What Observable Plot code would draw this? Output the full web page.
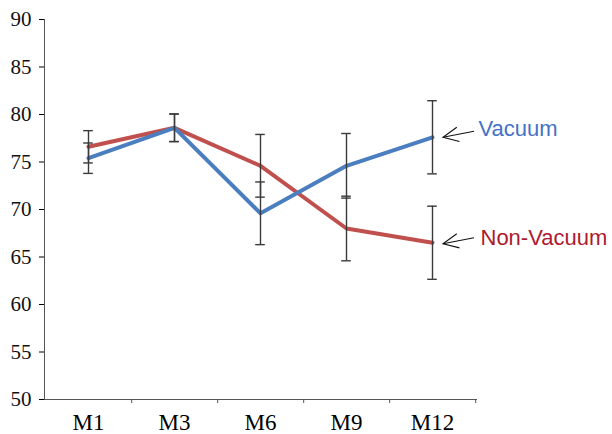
<!DOCTYPE html>
<html>
<head>
<meta charset="utf-8">
<script src="https://cdn.jsdelivr.net/npm/d3@7"></script>
<script src="https://cdn.jsdelivr.net/npm/@observablehq/plot@0.6"></script>
<style>
  html, body { margin: 0; padding: 0; background: #fff; }
  #chart svg { display: block; }
</style>
</head>
<body>
<div id="chart"></div>
<script>
// ---- data ----
const months = ["M1", "M3", "M6", "M9", "M12"];
const vacuumMean = [75.4, 78.6, 69.6, 74.6, 77.6];
const vacuumErr = [1.6, 1.45, 3.3, 3.4, 3.85];
const nonVacuumMean = [76.6, 78.6, 74.6, 68.0, 66.5];
const nonVacuumErr = [1.7, 1.45, 3.3, 3.4, 3.85];
const yTicks = [50, 55, 60, 65, 70, 75, 80, 85, 90];
const seriesNames = ["Vacuum", "Non-Vacuum"];

const vacuum = months.map((m, i) => ({month: m, value: vacuumMean[i], err: vacuumErr[i]}));
const nonVacuum = months.map((m, i) => ({month: m, value: nonVacuumMean[i], err: nonVacuumErr[i]}));
const allRows = nonVacuum.concat(vacuum);

const W = 612, H = 434;
const mL = 44, mR = 136, mT = 19, mB = 35;
const halfBand = (W - mL - mR) / months.length / 2;
const blue = "#4a7ebf", red = "#c0504d";
const barColor = "#3a3a3a";
const serif = "Liberation Serif";
const sans = "Liberation Sans";

// custom arrow drawn with the plot's scales
function pointerArrow(cat, value, tipDy, tailDy) {
  return function(index, scales) {
    const s = (scales && typeof scales.x === "function") ? scales : arguments[0];
    const x = s.x, y = s.y;
    const bw = x.bandwidth ? x.bandwidth() : 0;
    const cx = x(cat) + bw / 2;
    const cy = y(value);
    const tip = [cx + 11, cy + tipDy];
    const tail = [cx + 42, cy + tailDy];
    const ang = Math.atan2(tail[1] - tip[1], tail[0] - tip[0]);
    const L = 17, a = 25 * Math.PI / 180;
    const h1 = [tip[0] + L * Math.cos(ang - a), tip[1] + L * Math.sin(ang - a)];
    const h2 = [tip[0] + L * Math.cos(ang + a), tip[1] + L * Math.sin(ang + a)];
    const g = d3.create("svg:g").attr("fill", "none").attr("stroke", "#111").attr("stroke-width", 1.1);
    g.append("path").attr("d", `M${tail[0]},${tail[1]}L${tip[0]},${tip[1]}`);
    g.append("path").attr("d", `M${h1[0]},${h1[1]}L${tip[0]},${tip[1]}L${h2[0]},${h2[1]}`);
    return g.node();
  };
}

const chart = Plot.plot({
  width: W, height: H, marginLeft: mL, marginRight: mR, marginTop: mT, marginBottom: mB,
  x: {type: "band", domain: months, padding: 0, label: null},
  y: {domain: [50, 90], label: null},
  marks: [
    // y axis: tick marks from the axis, labels as serif text marks
    Plot.axisY({ticks: yTicks, tickSize: 5, tickFormat: () => "", label: null}),
    Plot.text(yTicks, {y: d => d, text: d => String(d), frameAnchor: "left", dx: -13, textAnchor: "end", fontSize: 21, fontFamily: serif, fill: "#111"}),
    Plot.axisX({tickSize: 0, tickPadding: 14, fontSize: 23, fontFamily: serif, label: null}),
    Plot.frame({anchor: "left", stroke: "#555"}),
    Plot.frame({anchor: "bottom", stroke: "#555"}),
    Plot.ruleX(months, {x: d => d, y1: 50, y2: 50, insetBottom: -4, dx: halfBand, stroke: "#555"}),
    // lines
    Plot.line(nonVacuum, {x: "month", y: "value", stroke: red, strokeWidth: 4}),
    Plot.line(vacuum, {x: "month", y: "value", stroke: blue, strokeWidth: 4}),
    // error bars
    Plot.ruleX(allRows, {x: "month", y1: d => d.value - d.err, y2: d => d.value + d.err, stroke: barColor, strokeWidth: 1.4}),
    Plot.tickY(allRows, {x: "month", y: d => d.value + d.err, stroke: barColor, strokeWidth: 1.4, insetLeft: halfBand - 5, insetRight: halfBand - 5}),
    Plot.tickY(allRows, {x: "month", y: d => d.value - d.err, stroke: barColor, strokeWidth: 1.4, insetLeft: halfBand - 5, insetRight: halfBand - 5}),
    // annotations
    pointerArrow(months[4], vacuumMean[4], 0.5, -5.5),
    pointerArrow(months[4], nonVacuumMean[4], 1.5, -4.5),
    Plot.text([seriesNames[0]], {x: () => months[4], y: () => vacuumMean[4], text: d => d, dx: 46, dy: -8.5, textAnchor: "start", fontSize: 22, fontFamily: sans, fill: "#4472c4"}),
    Plot.text([seriesNames[1]], {x: () => months[4], y: () => nonVacuumMean[4], text: d => d, dx: 48, dy: -5, textAnchor: "start", fontSize: 22, fontFamily: sans, fill: "#ad1a2f"})
  ]
});
document.getElementById("chart").appendChild(chart);
</script>
</body>
</html>
